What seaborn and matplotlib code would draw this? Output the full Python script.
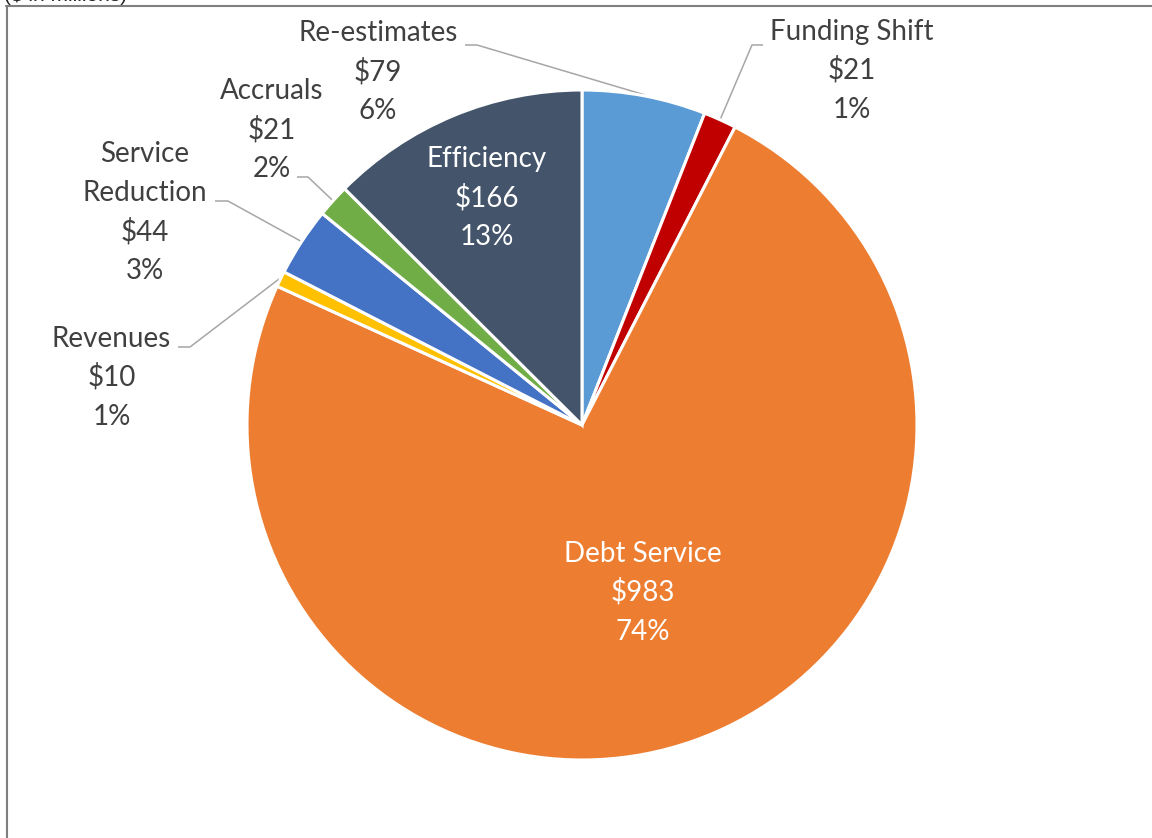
import numpy as np
import matplotlib
matplotlib.use("Agg")
import matplotlib.pyplot as plt
import seaborn as sns

# Budget gap-closing components ($ in millions), clockwise from 12 o'clock
categories = ["Re-estimates", "Funding Shift", "Debt Service", "Revenues",
              "Service Reduction", "Accruals", "Efficiency"]
amounts = [79, 21, 983, 10, 44, 21, 166]
percent_labels = ["6%", "1%", "74%", "1%", "3%", "2%", "13%"]
label_lines = [["Re-estimates"], ["Funding Shift"], ["Debt Service"], ["Revenues"],
               ["Service", "Reduction"], ["Accruals"], ["Efficiency"]]
colors = ["#5B9BD5", "#C00000", "#ED7D31", "#FFC000", "#4472C4", "#70AD47", "#44546A"]

sns.set_theme(style="white")
plt.rcParams["font.family"] = ["Lato", "DejaVu Sans"]

W, H = 1152, 838
fig = plt.figure(figsize=(W / 100, H / 100), dpi=100)
ax = fig.add_axes([0, 0, 1, 1])


def py(y):
    return H - y


cx, cy, radius = 582, 425, 335
ax.pie(amounts, colors=colors, startangle=90, counterclock=False,
       center=(cx, py(cy)), radius=radius,
       wedgeprops=dict(edgecolor="white", linewidth=2.2))
ax.set_xlim(0, W)
ax.set_ylim(0, H)
ax.set_aspect("equal")
ax.axis("off")

# label layout: (x centre, first baseline, text colour, leader elbow [x_start, x_bend, y] or None)
layout = {
    "Re-estimates": (378, 41, "#404040", (465, 477, 45)),
    "Funding Shift": (852, 40, "#404040", (763, 752, 45)),
    "Debt Service": (643, 562, "white", None),
    "Revenues": (111.5, 347, "#404040", (178, 190, 347)),
    "Service Reduction": (145, 162, "#404040", (215, 228, 201)),
    "Accruals": (272, 99, "#404040", (297, 308, 177)),
    "Efficiency": (486.5, 167, "white", None),
}
line_gap = 39
fs = 20

total = sum(amounts)
cum = 0
for cat, amt, pct, lines, in zip(categories, amounts, percent_labels, label_lines):
    x, y0, col, leader = layout[cat]
    texts = lines + [f"${amt}", pct]
    for i, t in enumerate(texts):
        ax.text(x, py(y0 + i * line_gap), t, ha="center", va="baseline",
                fontsize=fs, color=col)
    mid = np.deg2rad(90 - 360 * (cum + amt / 2) / total)
    if leader is not None:
        xs, xb, ly = leader
        ex = cx + radius * 1.003 * np.cos(mid)
        ey = py(cy) + radius * 1.003 * np.sin(mid)
        ax.plot([xs, xb, ex], [py(ly), py(ly), ey], color="#A6A6A6", lw=1.1,
                solid_capstyle="butt", zorder=0.5)
    cum += amt

# chart frame (extends beyond the image on the right and bottom)
ax.plot([7, 7], [py(6), py(H + 20)], color="#7F7F7F", lw=1.5, clip_on=False)
ax.plot([6, W + 20], [py(6), py(6)], color="#7F7F7F", lw=1.5, clip_on=False)

ax.text(4, py(1.5), "($ in millions)", ha="left", va="baseline",
        fontsize=15, color="#262626", family=["Liberation Sans", "DejaVu Sans"])

fig.savefig("out.png", dpi=100)
